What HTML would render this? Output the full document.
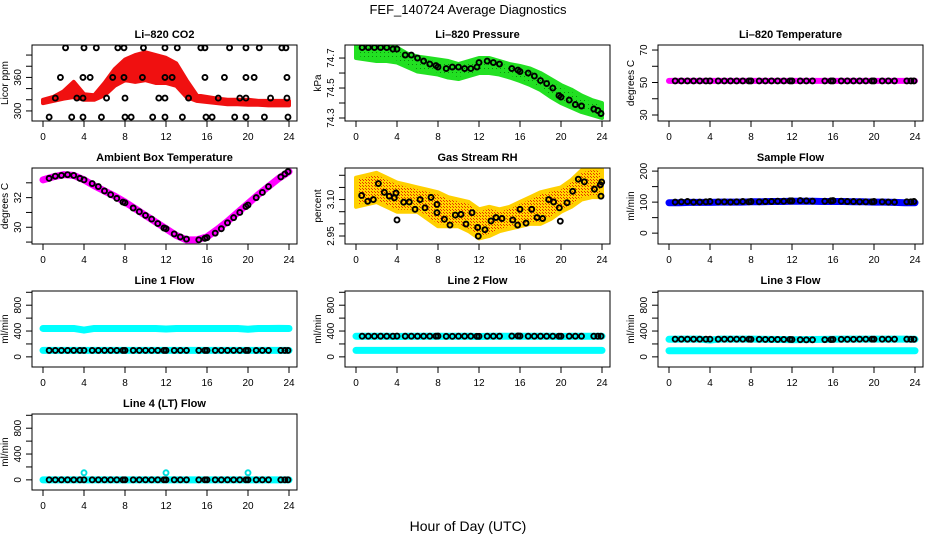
<!DOCTYPE html>
<html><head><meta charset="utf-8">
<style>
html,body{margin:0;padding:0;background:#fff;}
svg{display:block;font-family:"Liberation Sans",Arial,sans-serif;}
</style></head>
<body>
<svg id="chart" width="936" height="540" viewBox="0 0 936 540">
<defs>
<pattern id="rhpat" width="3" height="3" patternUnits="userSpaceOnUse"><rect width="3" height="3" fill="#ffd800"/><rect width="1" height="1" fill="#e83000"/><rect x="2" y="2" width="1" height="1" fill="#e83000"/></pattern>
<pattern id="prpat" width="4" height="4" patternUnits="userSpaceOnUse"><rect width="4" height="4" fill="#22e022"/><rect width="1" height="1" fill="#0a8a0a"/></pattern>
</defs>
<text x="468" y="14" text-anchor="middle" font-size="13">FEF_140724  Average Diagnostics</text>
<text x="468" y="531" text-anchor="middle" font-size="14">Hour of Day (UTC)</text>
</svg>
<script>
const blackHours = [0.6,1.2,1.8,2.4,3.0,3.6,4.0,4.8,5.4,6.0,6.6,7.2,7.8,8.0,8.8,9.4,10.0,10.6,11.2,11.8,12.0,12.8,13.4,14.0,15.2,15.8,16.0,16.8,17.4,18.0,18.6,19.2,19.8,20.0,20.8,21.4,22.0,23.2,23.6,23.9];
const hourly = [0,1,2,3,4,5,6,7,8,9,10,11,12,13,14,15,16,17,18,19,20,21,22,23,24];
const xTicks = [0,4,8,12,16,20,24];

const co2Lo = [314,318,322,325,320,320,328,345,355,352,355,350,350,345,325,318,316,314,312,312,311,311,310,310,310];
const co2Hi = [320,325,335,352,330,328,350,375,392,400,405,400,395,385,355,328,325,322,320,320,320,318,318,318,318];
const co2TopHours = [2.2,4.0,5.2,7.3,7.9,9.8,11.9,13.1,15.4,15.8,18.2,19.8,21.1,23.3,23.7];
const co2MidHours = [1.7,3.9,4.6,6.8,7.9,9.7,11.9,12.6,15.8,17.7,19.8,20.6,23.8];
const co2LowHours = [1.2,3.3,3.9,6.2,8.0,11.3,11.9,14.2,17.1,19.2,19.8,22.2,23.8];
const co2BotHours = [0.6,2.8,3.9,5.7,8.0,8.6,10.7,11.9,13.6,15.9,16.5,18.7,19.8,21.6,23.9];
const co2Levels = [413,360,323,289];

const presHi = [74.787,74.787,74.78,74.775,74.77,74.73,74.71,74.70,74.69,74.68,74.66,74.68,74.70,74.70,74.68,74.66,74.647,74.63,74.60,74.56,74.52,74.49,74.45,74.42,74.40];
const presLo = [74.70,74.69,74.68,74.68,74.67,74.64,74.61,74.60,74.59,74.57,74.56,74.58,74.60,74.60,74.59,74.57,74.547,74.52,74.487,74.44,74.40,74.37,74.34,74.32,74.30];
const presBlack = [74.77,74.77,74.77,74.77,74.77,74.76,74.76,74.72,74.72,74.70,74.68,74.66,74.65,74.64,74.63,74.64,74.64,74.63,74.63,74.64,74.67,74.68,74.67,74.66,74.63,74.62,74.61,74.60,74.58,74.55,74.53,74.50,74.45,74.44,74.42,74.39,74.38,74.36,74.35,74.33];

const tempLine = [51,51,51,51,51,51,51,51,51,51,51,51,51,51,51,51,51,51,51,51,51,51,51,51,51];
const tempBlack = [51,51,51,51,51,51,51,51,51,51,51,51,51,51,51,51,51,51,51,51,51,51,51,51,51,51,51,51,51,51,51,51,51,51,51,51,51,51,51,51];

const ambLine = [33.2,33.4,33.55,33.5,33.2,32.8,32.45,32.1,31.7,31.25,30.8,30.35,29.9,29.45,29.15,29.15,29.35,29.85,30.4,31.0,31.6,32.2,32.75,33.3,33.75];
const ambBlack = [33.3,33.45,33.5,33.55,33.5,33.3,33.2,32.95,32.75,32.45,32.2,31.95,31.7,31.65,31.3,31.05,30.8,30.55,30.25,29.95,29.9,29.55,29.35,29.2,29.15,29.25,29.3,29.6,29.9,30.3,30.65,31.0,31.4,31.5,32.0,32.35,32.75,33.4,33.6,33.75];

const rhHi = [3.19,3.20,3.21,3.19,3.17,3.16,3.15,3.14,3.13,3.11,3.10,3.09,3.06,3.07,3.06,3.07,3.09,3.11,3.13,3.14,3.15,3.18,3.22,3.23,3.225];
const rhLo = [3.07,3.08,3.09,3.07,3.05,3.05,3.05,3.02,2.99,2.99,2.99,2.97,2.94,2.95,2.97,2.98,2.99,3.00,3.00,3.02,3.05,3.07,3.10,3.11,3.11];
const rhPtHours = [0.55,1.14,1.69,2.18,2.76,3.25,3.74,3.9,4.0,4.65,5.2,5.76,6.25,6.73,7.32,7.9,7.9,8.62,9.17,9.69,10.24,10.73,11.32,11.87,11.93,12.58,13.17,13.66,14.24,15.29,15.77,16.0,16.59,17.14,17.66,18.21,18.8,19.28,19.84,19.93,20.59,21.14,21.69,22.28,23.26,23.84,23.97,23.9];
const rhPtValues = [3.117,3.093,3.10,3.166,3.130,3.114,3.107,3.127,3.016,3.089,3.09,3.06,3.10,3.066,3.109,3.08,3.046,3.019,2.995,3.036,3.039,2.999,3.046,2.985,2.949,2.976,3.012,3.026,3.022,3.016,2.995,3.06,3.003,3.06,3.026,3.022,3.10,3.09,3.066,3.011,3.087,3.134,3.184,3.173,3.143,3.161,3.172,3.114];

const sampleLine = [98,98,99,99,99,100,100,100,101,101,102,102,103,103,103,102,102,102,101,101,100,100,99,98,98];
const sampleBlack = [100,101,102,100,100,101,102,101,101,100,101,102,101,102,101,102,102,103,103,104,104,105,104,103,103,104,105,103,102,102,101,101,101,102,101,100,100,101,101,102];

const line1Cyan = [440,440,440,440,415,440,440,440,440,440,440,440,432,440,440,440,440,440,440,440,428,440,440,442,440];
const line1Low = [100,100,100,100,100,100,100,100,100,100,100,100,100,100,100,100,100,100,100,100,100,100,100,100,100];
const line1Black = [100,100,100,100,100,100,100,100,100,100,100,100,100,100,100,100,100,100,100,100,100,100,100,100,100,100,100,100,100,100,100,100,100,100,100,100,100,100,100,100];
const line2Cyan = [320,320,320,320,315,320,320,320,320,320,320,320,315,320,320,320,320,320,320,320,315,320,320,320,320];
const line2Low = [100,100,100,100,100,100,100,100,100,100,100,100,100,100,100,100,100,100,100,100,100,100,100,100,100];
const line2Black = [320,320,320,320,320,320,322,320,320,320,320,320,320,322,318,318,320,320,320,318,318,320,320,320,322,324,322,320,320,320,320,320,320,320,320,320,320,320,320,320];
const line3Cyan = [272,274,274,274,260,274,274,274,274,272,270,268,265,266,268,270,272,274,274,274,274,274,274,274,272];
const line3Low = [95,95,95,95,95,95,95,95,95,95,95,95,95,95,95,95,95,95,95,95,95,95,95,95,95];
const line3Black = [274,274,274,274,274,274,274,274,274,274,274,274,274,272,272,270,270,270,270,270,268,266,264,264,266,268,270,272,272,272,274,274,274,274,274,274,274,274,272,272];
const line4Cyan = [0,0,0,0,0,0,0,0,0,0,0,0,0,0,0,0,0,0,0,0,0,0,0,0,0];
const line4Black = [0,0,0,0,0,0,0,0,0,0,0,0,0,0,0,0,0,0,0,0,0,0,0,0,0,0,0,0,0,0,0,0,0,0,0,0,0,0,0,0];
const line4SpikeHours = [4,12,20];
const line4SpikeValues = [110,110,110];

const NS = "http://www.w3.org/2000/svg";
const svg = document.getElementById('chart');
function mk(tag, attrs, parent){ const e=document.createElementNS(NS,tag); for(const k in attrs) e.setAttribute(k,attrs[k]); (parent||svg).appendChild(e); return e; }

const colL = [32,345,658], rowT = [45,168,291,414], PW = 265, PH = 76;

function panel(col,row,cfg){
  const L=colL[col], T=rowT[row];
  const g = mk('g',{});
  
  
  const xs = h => L+11 + h*(PW-19)/24;
  const ys = v => T+PH - (v-cfg.dom[0])/(cfg.dom[1]-cfg.dom[0])*PH;
  const t = mk('text',{x:L+PW/2,y:T-7,'text-anchor':'middle','font-size':11,'font-weight':'bold'},g);
  t.textContent = cfg.title;
  
  
  const clip = 'clip'+col+row;
  const cp = mk('clipPath',{id:clip},g); mk('rect',{x:L,y:T,width:PW,height:PH},cp);
  const plot = mk('g',{'clip-path':'url(#'+clip+')'},g);
  
  
  cfg.draw(plot,xs,ys);
  const box = mk('rect',{x:L,y:T,width:PW,height:PH,fill:'none',stroke:'#000','stroke-width':1},g);
  
  
  xTicks.forEach(h=>{
    mk('line',{x1:xs(h),x2:xs(h),y1:T+PH,y2:T+PH+6,stroke:'#000'},g);
    const tl = mk('text',{x:xs(h),y:T+PH+19,'text-anchor':'middle','font-size':10},g);
    tl.textContent = h;
    
    
  });
  cfg.ticks.forEach(v=>{
    mk('line',{x1:L-6,x2:L,y1:ys(v),y2:ys(v),stroke:'#000'},g);
  });
  cfg.labels.forEach(v=>{
    const yl = mk('text',{x:0,y:0,'text-anchor':'middle','font-size':10,transform:'translate('+(L-11)+','+ys(v)+') rotate(-90)'},g);
    yl.textContent = v;
    
    
  });
  const yt = mk('text',{x:0,y:0,'text-anchor':'middle','font-size':10,transform:'translate('+(L-24)+','+(T+PH/2)+') rotate(-90)'},g);
  yt.textContent = cfg.ylab;
  
  
}
function line(g,xs,ys,hours,vals,color,w,name){
  const p = mk('polyline',{points:hours.map((h,i)=>xs(h)+','+ys(vals[i])).join(' '),fill:'none',stroke:color,'stroke-width':w,'stroke-linecap':'round','stroke-linejoin':'round'},g);
  
  
}
function band(g,xs,ys,hours,lo,hi,fill,edge,name){
  const pts = hours.map((h,i)=>xs(h)+','+ys(hi[i])).concat(hours.slice().reverse().map((h,j)=>xs(h)+','+ys(lo[hours.length-1-j])));
  const p = mk('polygon',{points:pts.join(' '),fill:fill,stroke:edge,'stroke-width':4,'stroke-linejoin':'round'},g);
  
  
}
function pts(g,xs,ys,hours,vals,color,name){
  hours.forEach((h,i)=>{
    const c = mk('circle',{cx:xs(h),cy:ys(vals[i]),r:2.5,fill:'none',stroke:color,'stroke-width':1.9},g);
    
    
  });
}

panel(0,0,{name:'co2',title:'Li\u2013820 CO2',ylab:'Licor ppm',dom:[282,418],ticks:[300,320,340,360,380,400],labels:[300,360],
  draw:(g,xs,ys)=>{
    band(g,xs,ys,hourly,co2Lo,co2Hi,'#f01010','#f01010','co2-licor-band');
    const lv = [co2TopHours,co2MidHours,co2LowHours,co2BotHours];
    lv.forEach((hs,k)=>pts(g,xs,ys,hs,hs.map(()=>co2Levels[k]),'#000','co2-average-point'));
  }});
panel(1,0,{name:'pressure',title:'Li\u2013820 Pressure',ylab:'kPa',dom:[74.28,74.787],ticks:[74.3,74.4,74.5,74.6,74.7],labels:[74.3,74.5,74.7],
  draw:(g,xs,ys)=>{
    band(g,xs,ys,hourly,presLo,presHi,'url(#prpat)','#22e022','pressure-band');
    pts(g,xs,ys,blackHours,presBlack,'#000','pressure-average-point');
  }});
panel(2,0,{name:'li820-temp',title:'Li\u2013820 Temperature',ylab:'degrees C',dom:[26.3,73.1],ticks:[30,40,50,60,70],labels:[30,50,70],
  draw:(g,xs,ys)=>{
    line(g,xs,ys,hourly,tempLine,'#ff00ff',6,'temp-line');
    pts(g,xs,ys,blackHours,tempBlack,'#000','temp-average-point');
  }});
panel(0,1,{name:'ambient',title:'Ambient Box Temperature',ylab:'degrees C',dom:[28.87,34],ticks:[29,30,31,32,33],labels:[30,32],
  draw:(g,xs,ys)=>{
    line(g,xs,ys,hourly,ambLine,'#ff00ff',7,'ambient-line');
    pts(g,xs,ys,blackHours,ambBlack,'#000','ambient-average-point');
  }});
panel(1,1,{name:'rh',title:'Gas Stream RH',ylab:'percent',dom:[2.917,3.23],ticks:[2.95,3.0,3.05,3.1,3.15,3.2],labels:[2.95,'3.10'],
  draw:(g,xs,ys)=>{
    band(g,xs,ys,hourly,rhLo,rhHi,'url(#rhpat)','#ffd000','rh-band');
    pts(g,xs,ys,rhPtHours,rhPtValues,'#000','rh-average-point');
  }});
panel(2,1,{name:'sample-flow',title:'Sample Flow',ylab:'ml/min',dom:[-35,210],ticks:[0,50,100,150,200],labels:[0,100,200],
  draw:(g,xs,ys)=>{
    line(g,xs,ys,hourly,sampleLine,'#0000ff',7,'sample-flow-line');
    pts(g,xs,ys,blackHours,sampleBlack,'#000','sample-flow-average-point');
  }});
const flowDom=[-157,1020], flowTicks=[0,200,400,600,800,1000], flowLabels=[0,400,800];
panel(0,2,{name:'line1',title:'Line 1 Flow',ylab:'ml/min',dom:flowDom,ticks:flowTicks,labels:flowLabels,
  draw:(g,xs,ys)=>{
    line(g,xs,ys,hourly,line1Cyan,'#00ffff',7,'line1-high-line');
    line(g,xs,ys,hourly,line1Low,'#00ffff',7,'line1-low-line');
    pts(g,xs,ys,blackHours,line1Black,'#000','line1-average-point');
  }});
panel(1,2,{name:'line2',title:'Line 2 Flow',ylab:'ml/min',dom:flowDom,ticks:flowTicks,labels:flowLabels,
  draw:(g,xs,ys)=>{
    line(g,xs,ys,hourly,line2Cyan,'#00ffff',7,'line2-high-line');
    line(g,xs,ys,hourly,line2Low,'#00ffff',7,'line2-low-line');
    pts(g,xs,ys,blackHours,line2Black,'#000','line2-average-point');
  }});
panel(2,2,{name:'line3',title:'Line 3 Flow',ylab:'ml/min',dom:flowDom,ticks:flowTicks,labels:flowLabels,
  draw:(g,xs,ys)=>{
    line(g,xs,ys,hourly,line3Cyan,'#00ffff',7,'line3-high-line');
    line(g,xs,ys,hourly,line3Low,'#00ffff',7,'line3-low-line');
    pts(g,xs,ys,blackHours,line3Black,'#000','line3-average-point');
  }});
panel(0,3,{name:'line4',title:'Line 4 (LT) Flow',ylab:'ml/min',dom:flowDom,ticks:flowTicks,labels:flowLabels,
  draw:(g,xs,ys)=>{
    line(g,xs,ys,hourly,line4Cyan,'#00ffff',7,'line4-line');
    pts(g,xs,ys,line4SpikeHours,line4SpikeValues,'#00e0e0','line4-spike-point');
    pts(g,xs,ys,blackHours,line4Black,'#000','line4-average-point');
  }});
</script>
</body></html>
